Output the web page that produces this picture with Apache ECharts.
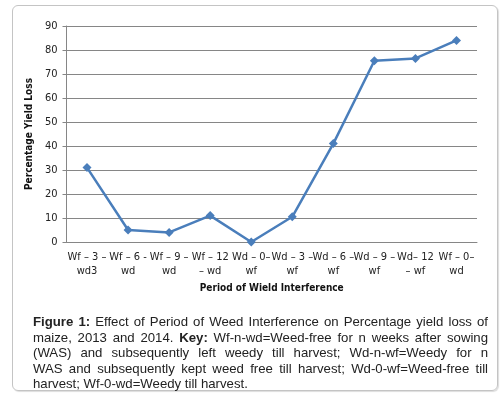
<!DOCTYPE html>
<html>
<head>
<meta charset="utf-8">
<script src="https://cdn.jsdelivr.net/npm/echarts@6/dist/echarts.min.js"></script>
<style>
  html, body { margin: 0; padding: 0; background: #fff; }
  #wrap { position: relative; width: 502px; height: 398px; }
  #frame {
    position: absolute; left: 12px; top: 5px; width: 484px; height: 384px;
    border: 1px solid #c4c4c4; border-radius: 6px; box-shadow: 1px 1px 1px #ddd;
  }
  #chart { position: absolute; left: 0; top: 0; width: 502px; height: 398px; }
  #caption {
    position: absolute; left: 33px; top: 314px; width: 455px;
    font: 13.2px "Liberation Sans", Arial, sans-serif; line-height: 15.5px;
    color: #222;
  }
  #caption div { white-space: nowrap; text-align: justify; text-align-last: justify; }
  #caption div.last { text-align-last: left; }
</style>
</head>
<body>
<div id="wrap">
  <div id="frame"></div>
  <div id="chart"></div>
  <div id="caption">
    <div><b>Figure 1:</b> Effect of Period of Weed Interference on Percentage yield loss of</div>
    <div>maize, 2013 and 2014. <b>Key:</b> Wf-n-wd=Weed-free for n weeks after sowing</div>
    <div>(WAS) and subsequently left weedy till harvest; Wd-n-wf=Weedy for n</div>
    <div>WAS and subsequently kept weed free till harvest; Wd-0-wf=Weed-free till</div>
    <div class="last">harvest; Wf-0-wd=Weedy till harvest.</div>
  </div>
</div>
<script>
const periods = [
  'Wf – 3 –\nwd3', 'Wf – 6 -\nwd', 'Wf – 9 –\nwd', 'Wf – 12\n– wd', 'Wd – 0–\nwf',
  'Wd – 3 –\nwf', 'Wd – 6 –\nwf', 'Wd – 9 –\nwf', 'Wd– 12\n– wf', 'Wf – 0–\nwd'
]
const yieldLoss = [31, 5, 4, 11, 0, 10.5, 41, 75.5, 76.5, 84]

const FONT = '"Liberation Sans Narrow", "DejaVu Sans Condensed", "Liberation Sans", sans-serif'

const chart = echarts.init(document.getElementById('chart'))
chart.setOption({
  backgroundColor: 'transparent',
  animation: false,
  textStyle: { fontFamily: FONT },
  grid: { left: 66.5, right: 25, top: 26, bottom: 156, containLabel: false, outerBoundsMode: 'none' },
  xAxis: {
    type: 'category',
    data: periods,
    name: 'Period of Wield Interference',
    nameLocation: 'middle',
    nameGap: 41,
    nameTextStyle: { color: '#111', fontSize: 10, fontWeight: 'bold', fontFamily: FONT },
    axisLine: { lineStyle: { color: '#868686', width: 1 } },
    axisTick: { show: false },
    axisLabel: { color: '#222', fontSize: 11, lineHeight: 14, margin: 8, interval: 0, fontFamily: FONT }
  },
  yAxis: {
    type: 'value',
    min: 0,
    max: 90,
    interval: 10,
    name: 'Percentage Yield Loss',
    nameLocation: 'middle',
    nameGap: 28,
    nameTextStyle: { color: '#111', fontSize: 10, fontWeight: 'bold', fontFamily: FONT },
    axisLine: { show: true, lineStyle: { color: '#868686', width: 1 } },
    axisTick: { show: true, length: 4, lineStyle: { color: '#868686' } },
    axisLabel: { color: '#222', fontSize: 11, margin: 9, fontFamily: FONT },
    splitLine: { lineStyle: { color: '#868686', width: 1 } }
  },
  series: [{
    type: 'line',
    data: yieldLoss,
    symbol: 'diamond',
    symbolSize: 9,
    lineStyle: { color: '#4a7ebb', width: 2.5 },
    itemStyle: { color: '#4a7ebb' }
  }]
})
</script>
</body>
</html>
